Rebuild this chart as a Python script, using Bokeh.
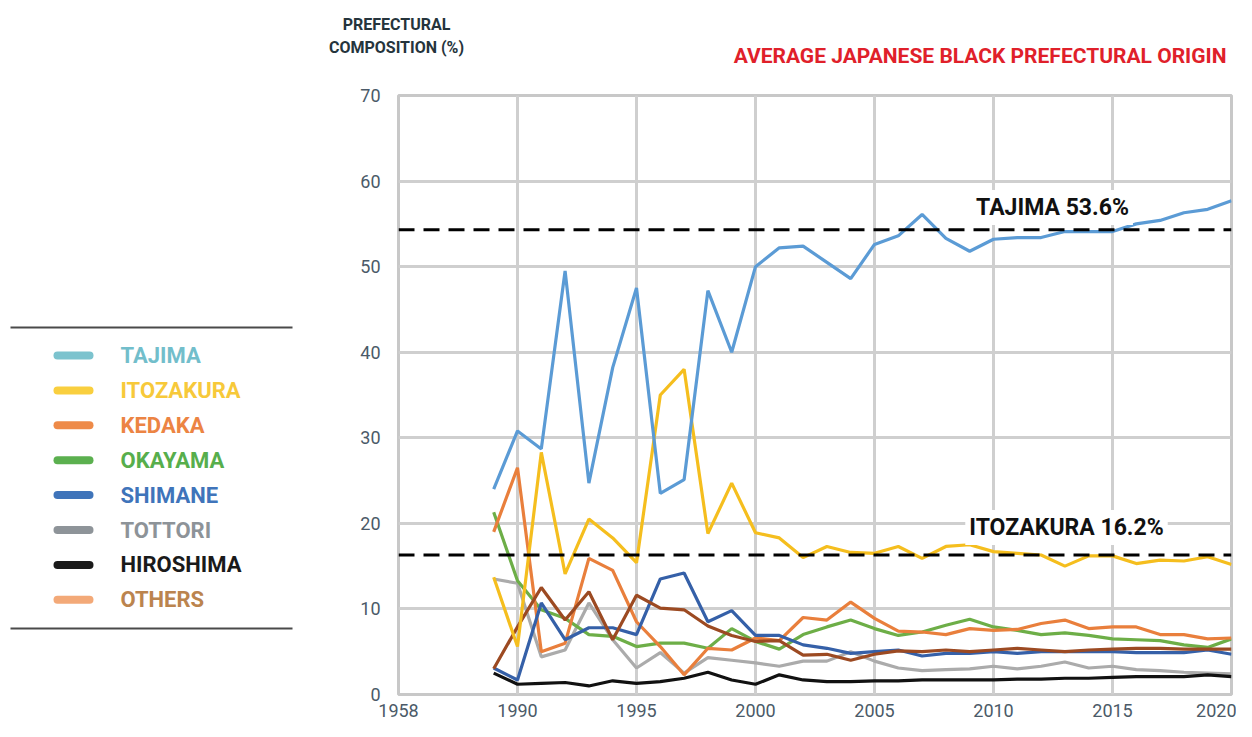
from bokeh.plotting import figure
from bokeh.models import Range1d, Span, Label, FixedTicker
from bokeh.layouts import row, column
from bokeh.embed import file_html
from bokeh.resources import INLINE
from bokeh.core.properties import value

# ---------------- data ----------------
years = list(range(1989, 2021))

tajima = [24.0, 30.8, 28.7, 49.5, 24.7, 38.2, 47.5, 23.5, 25.1, 47.2, 40.0, 50.0,
          52.2, 52.4, 50.5, 48.6, 52.6, 53.6, 56.1, 53.3, 51.8, 53.2, 53.4, 53.4,
          54.1, 54.1, 54.1, 55.0, 55.4, 56.3, 56.7, 57.7]
itozakura = [13.7, 5.6, 28.3, 14.1, 20.5, 18.3, 15.4, 35.0, 38.0, 18.8, 24.7, 18.9,
             18.3, 16.0, 17.3, 16.6, 16.5, 17.3, 15.9, 17.3, 17.5, 16.7, 16.5, 16.3,
             15.0, 16.2, 16.2, 15.3, 15.7, 15.6, 16.1, 15.2]
kedaka = [19.0, 26.5, 5.0, 6.0, 15.9, 14.5, 8.5, 5.6, 2.3, 5.4, 5.2, 6.6,
          6.3, 9.0, 8.7, 10.8, 8.9, 7.4, 7.3, 7.0, 7.7, 7.5, 7.6, 8.3,
          8.7, 7.7, 7.9, 7.9, 7.0, 7.0, 6.5, 6.6]
okayama = [21.3, 13.3, 9.9, 8.9, 7.0, 6.8, 5.6, 6.0, 6.0, 5.4, 7.7, 6.2,
           5.3, 7.0, 7.9, 8.7, 7.7, 6.9, 7.3, 8.1, 8.8, 7.9, 7.5, 7.0,
           7.2, 6.9, 6.5, 6.4, 6.3, 5.8, 5.5, 6.5]
shimane = [3.1, 1.7, 10.7, 6.4, 7.8, 7.8, 7.0, 13.5, 14.2, 8.5, 9.8, 6.9,
           6.9, 5.8, 5.4, 4.8, 5.0, 5.2, 4.5, 4.8, 4.8, 5.0, 4.8, 5.0,
           5.0, 5.0, 5.0, 4.9, 4.9, 4.9, 5.2, 4.7]
tottori = [13.5, 13.0, 4.4, 5.2, 10.7, 6.4, 3.1, 4.9, 2.5, 4.3, 4.0, 3.7,
           3.3, 3.9, 3.9, 5.0, 3.9, 3.1, 2.8, 2.9, 3.0, 3.3, 3.0, 3.3,
           3.8, 3.1, 3.3, 2.9, 2.8, 2.6, 2.5, 2.4]
hiroshima = [2.5, 1.2, 1.3, 1.4, 1.0, 1.6, 1.3, 1.5, 1.9, 2.6, 1.7, 1.2,
             2.3, 1.7, 1.5, 1.5, 1.6, 1.6, 1.7, 1.7, 1.7, 1.7, 1.8, 1.8,
             1.9, 1.9, 2.0, 2.1, 2.1, 2.1, 2.3, 2.1]
others = [3.0, 7.9, 12.5, 8.7, 12.0, 6.4, 11.6, 10.1, 9.9, 8.0, 6.9, 6.2,
          6.3, 4.6, 4.7, 4.0, 4.7, 5.1, 5.0, 5.2, 5.0, 5.2, 5.4, 5.2,
          5.0, 5.2, 5.3, 5.4, 5.4, 5.3, 5.3, 5.3]

series_names = ["TAJIMA", "ITOZAKURA", "KEDAKA", "OKAYAMA", "SHIMANE", "TOTTORI", "HIROSHIMA", "OTHERS"]
series_values = [tajima, itozakura, kedaka, okayama, shimane, tottori, hiroshima, others]
line_colors = ["#5B9BD5", "#F5BE1E", "#E97F3C", "#6DAE47", "#3560A8", "#ABABAB", "#111111", "#9C4A22"]
draw_order = [5, 6, 3, 2, 4, 7, 1, 0]

legend_text_colors = ["#72BECB", "#F7C93A", "#EC8443", "#57AE4C", "#3F74BA", "#8D9398", "#1A1A1A", "#BB844E"]
legend_swatch_colors = ["#7CC3CE", "#F9CF3F", "#EE8A48", "#5BB04F", "#3F74BA", "#8E9499", "#1A1A1A", "#F3A978"]

avg_values = [54.3, 16.3]
avg_labels = ["TAJIMA 53.6%", "ITOZAKURA 16.2%"]

x_ticks = [1985, 1990, 1995, 2000, 2005, 2010, 2015, 2020]
x_tick_labels = ["1958", "1990", "1995", "2000", "2005", "2010", "2015", "2020"]
y_ticks = [0, 10, 20, 30, 40, 50, 60, 70]

header_texts = ["PREFECTURAL", "COMPOSITION (%)"]
title_text = "AVERAGE JAPANESE BLACK PREFECTURAL ORIGIN"

FONT = "Roboto"
W = 1236
H = 721
HEAD_H = 80
BODY_H = H - HEAD_H
LEG_W = 300
MAIN_W = W - LEG_W
# frame edges in page pixels
FRAME_L, FRAME_R, FRAME_T, FRAME_B = 398, 1231, 95, 694


def xd(px):
    """page pixel -> year coordinate of the main frame"""
    return 1985 + (px - FRAME_L) * 35.0 / (FRAME_R - FRAME_L)


def yd(py):
    """page pixel -> value coordinate of the main frame"""
    return (FRAME_B - py) * 70.0 / (FRAME_B - FRAME_T)


def bare(fig):
    fig.axis.visible = False
    fig.grid.visible = False
    fig.outline_line_color = None
    fig.background_fill_color = "white"
    fig.border_fill_color = "white"


# ---------------- header figure ----------------
head = figure(width=W, height=HEAD_H, x_range=Range1d(0, W), y_range=Range1d(HEAD_H, 0),
              output_backend="svg", toolbar_location=None, min_border=0)
bare(head)
head.text(x=[396, 396], y=[24, 47], text=header_texts, text_color="#25343C",
          text_font=value(FONT), text_font_style="bold", text_font_size="16px",
          text_align="center", text_baseline="middle")
head.text(x=[1226], y=[55], text=[title_text], text_color="#E0202A",
          text_font=value(FONT), text_font_style="bold", text_font_size="21px",
          text_align="right", text_baseline="middle")

# ---------------- legend figure ----------------
leg = figure(width=LEG_W, height=BODY_H, x_range=Range1d(0, LEG_W), y_range=Range1d(FRAME_B, FRAME_T),
             output_backend="svg", toolbar_location=None,
             min_border_left=0, min_border_right=0,
             min_border_top=FRAME_T - HEAD_H, min_border_bottom=H - FRAME_B)
bare(leg)
leg.segment(x0=[10, 10], y0=[327, 628], x1=[292, 292], y1=[327, 628], line_color="#4A4A4A", line_width=2)
ly = [355 + i * 34.9 for i in range(len(series_names))]
leg.segment(x0=[57] * 8, y0=ly, x1=[89] * 8, y1=ly, line_color=legend_swatch_colors,
            line_width=8, line_cap="round")
leg.text(x=[120] * 8, y=ly, text=series_names, text_color=legend_text_colors,
         text_font=value(FONT), text_font_style="bold", text_font_size="22px",
         text_baseline="middle", text_align="left")

# ---------------- main chart ----------------
p = figure(width=MAIN_W, height=BODY_H, x_range=Range1d(1985, 2020), y_range=Range1d(0, 70),
           output_backend="svg", toolbar_location=None,
           min_border_left=FRAME_L - LEG_W, min_border_right=W - FRAME_R,
           min_border_top=FRAME_T - HEAD_H, min_border_bottom=H - FRAME_B)
p.background_fill_color = "white"
p.border_fill_color = "white"
p.outline_line_color = "#C8C8C8"
p.outline_line_width = 3

p.xaxis.ticker = FixedTicker(ticks=x_ticks)
p.yaxis.ticker = FixedTicker(ticks=y_ticks)
p.xaxis.major_label_overrides = {t: l for t, l in zip(x_ticks, x_tick_labels)}
for ax in (p.xaxis, p.yaxis):
    ax.axis_line_color = None
    ax.major_tick_line_color = None
    ax.minor_tick_line_color = None
    ax.major_label_text_font = FONT
    ax.major_label_text_font_size = "18px"
    ax.major_label_text_color = "#4B5A68"
p.xaxis.major_label_standoff = 3
p.yaxis.major_label_standoff = 12
p.grid.grid_line_color = "#CFCFCF"
p.grid.grid_line_width = 3

for i in draw_order:
    p.line(years, series_values[i], line_color=line_colors[i], line_width=3.2)

label_pos = [(1052, 207), (1066, 527)]
for v, t, (lx, lyy) in zip(avg_values, avg_labels, label_pos):
    p.add_layout(Span(location=v, dimension="width", line_color="black", line_width=3,
                      line_dash="16 9"))
    p.add_layout(Label(x=xd(lx), y=yd(lyy), text=t, text_font=FONT, text_font_style="bold",
                       text_font_size="23px", text_color="#111111", text_align="center",
                       text_baseline="middle", background_fill_color="white",
                       background_fill_alpha=1.0, padding=4))

layout = column(head, row(leg, p, spacing=0), spacing=0)
open("out.html", "w").write(file_html(layout, INLINE))
